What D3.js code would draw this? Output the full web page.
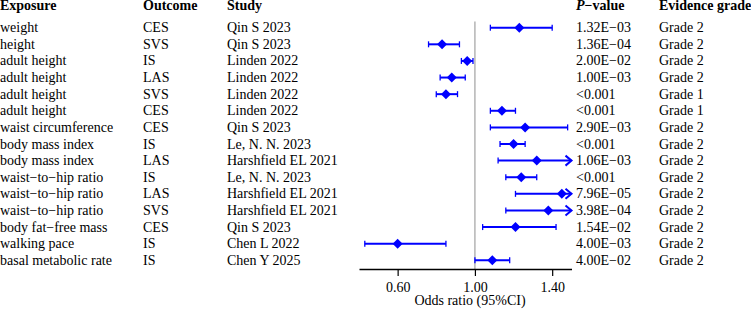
<!DOCTYPE html>
<html>
<head>
<meta charset="utf-8">
<script src="https://cdn.jsdelivr.net/npm/d3@7"></script>
<style>
  body { margin: 0; background: #fff; }
</style>
</head>
<body>
<div id="forest"></div>
<script>
// forest plot data
const exposures = ["weight", "height", "adult height", "adult height", "adult height", "adult height",
  "waist circumference", "body mass index", "body mass index", "waist\u2212to\u2212hip ratio",
  "waist\u2212to\u2212hip ratio", "waist\u2212to\u2212hip ratio", "body fat\u2212free mass", "walking pace",
  "basal metabolic rate"];
const outcomes = ["CES", "SVS", "IS", "LAS", "SVS", "CES", "CES", "IS", "LAS", "IS", "LAS", "SVS", "CES", "IS", "IS"];
const studies = ["Qin S 2023", "Qin S 2023", "Linden 2022", "Linden 2022", "Linden 2022", "Linden 2022",
  "Qin S 2023", "Le, N. N. 2023", "Harshfield EL 2021", "Le, N. N. 2023", "Harshfield EL 2021",
  "Harshfield EL 2021", "Qin S 2023", "Chen L 2022", "Chen Y 2025"];
const orValues = [1.23, 0.83, 0.96, 0.88, 0.85, 1.14, 1.26, 1.20, 1.32, 1.24, 1.45, 1.38, 1.21, 0.60, 1.09];
const lowerCI = [1.08, 0.76, 0.93, 0.82, 0.80, 1.08, 1.08, 1.13, 1.12, 1.16, 1.21, 1.16, 1.04, 0.43, 1.00];
const upperCI = [1.40, 0.92, 0.99, 0.95, 0.91, 1.21, 1.48, 1.26, 1.56, 1.32, 1.74, 1.64, 1.42, 0.85, 1.18];
const pValues = ["1.32E\u221203", "1.36E\u221204", "2.00E\u221202", "1.00E\u221203", "<0.001", "<0.001",
  "2.90E\u221203", "<0.001", "1.06E\u221203", "<0.001", "7.96E\u221205", "3.98E\u221204", "1.54E\u221202",
  "4.00E\u221203", "4.00E\u221202"];
const grades = ["Grade 2", "Grade 2", "Grade 2", "Grade 2", "Grade 1", "Grade 1", "Grade 2", "Grade 2",
  "Grade 2", "Grade 2", "Grade 2", "Grade 2", "Grade 2", "Grade 2", "Grade 2"];
const xTickValues = [0.6, 1.0, 1.4];

const width = 751, height = 311;
const blue = "#0000ff";
const serif = "'Liberation Serif', 'Times New Roman', serif";

const svg = d3.select('#forest')
  .append('svg')
  .attr('width', width)
  .attr('height', height)
  .style('font-family', serif)
  .style('font-size', '14px');

const x = d3.scaleLinear().domain([0.4, 1.5]).range([359, 571.5]);
const y = d3.scalePoint().domain(d3.range(exposures.length)).range([27.7, 260.3]);

const cols = { exposure: 0, outcome: 143, study: 227, p: 576, grade: 659 };

// headers
const head = svg.append('g').style('font-weight', 'bold');
head.append('text').attr('x', cols.exposure).attr('y', 10).text('Exposure');
head.append('text').attr('x', cols.outcome).attr('y', 10).text('Outcome');
head.append('text').attr('x', cols.study).attr('y', 10).text('Study');
const ph = head.append('text').attr('x', cols.p).attr('y', 10);
ph.append('tspan').style('font-style', 'italic').text('P');
ph.append('tspan').text('\u2212value');
head.append('text').attr('x', cols.grade).attr('y', 10).text('Evidence grade');

// table columns
const rows = svg.append('g');
const addCol = (arr, cx) => {
  rows.selectAll(null).data(arr).enter()
    .append('text')
    .attr('x', cx)
    .attr('y', (d, i) => y(i) + 4.5)
    .text(d => d);
};
addCol(exposures, cols.exposure);
addCol(outcomes, cols.outcome);
addCol(studies, cols.study);
addCol(pValues, cols.p);
addCol(grades, cols.grade);

// reference line at OR = 1
svg.append('line')
  .attr('x1', x(1)).attr('x2', x(1))
  .attr('y1', 21.5).attr('y2', 269)
  .attr('stroke', '#b4b4b4')
  .attr('stroke-width', 1.5);

// axis
const axis = svg.append('g')
  .attr('transform', 'translate(0,269)')
  .call(d3.axisBottom(x).tickValues(xTickValues).tickFormat(d3.format('.2f')).tickSize(7).tickSizeOuter(0).tickPadding(6));
axis.attr('font-family', null).attr('font-size', null);
axis.select('.domain').attr('stroke', '#000').attr('stroke-width', 1.3);
axis.selectAll('.tick line').attr('stroke', '#000').attr('stroke-width', 1.2);
axis.selectAll('.tick text').attr('fill', '#000');

svg.append('text')
  .attr('x', 470)
  .attr('y', 305)
  .attr('text-anchor', 'middle')
  .text('Odds ratio (95%CI)');

// CI lines
const xMax = x.domain()[1];
const marks = svg.append('g');
const idx = d3.range(exposures.length);

marks.selectAll('.ci').data(idx).enter()
  .append('line')
  .attr('x1', i => x(lowerCI[i]))
  .attr('x2', i => x(Math.min(upperCI[i], xMax)))
  .attr('y1', i => y(i)).attr('y2', i => y(i))
  .attr('stroke', blue)
  .attr('stroke-width', 2);

// lower caps
marks.selectAll('.capL').data(idx).enter()
  .append('line')
  .attr('x1', i => x(lowerCI[i])).attr('x2', i => x(lowerCI[i]))
  .attr('y1', i => y(i) - 3).attr('y2', i => y(i) + 3)
  .attr('stroke', blue).attr('stroke-width', 1.3);

// upper caps or arrows when clipped
marks.selectAll('.capU').data(idx.filter(i => upperCI[i] <= xMax)).enter()
  .append('line')
  .attr('x1', i => x(upperCI[i])).attr('x2', i => x(upperCI[i]))
  .attr('y1', i => y(i) - 3).attr('y2', i => y(i) + 3)
  .attr('stroke', blue).attr('stroke-width', 1.3);

marks.selectAll('.arrow').data(idx.filter(i => upperCI[i] > xMax)).enter()
  .append('path')
  .attr('d', i => {
    const ex = x(xMax), ey = y(i);
    return `M${ex - 6},${ey - 5}L${ex},${ey}L${ex - 6},${ey + 5}`;
  })
  .attr('fill', 'none')
  .attr('stroke', blue)
  .attr('stroke-width', 2);

// diamonds
marks.selectAll('.pt').data(idx).enter()
  .append('path')
  .attr('d', i => {
    const cx = x(orValues[i]), cy = y(i), r = 5;
    return `M${cx - r},${cy}L${cx},${cy - r}L${cx + r},${cy}L${cx},${cy + r}Z`;
  })
  .attr('fill', blue);
</script>
</body>
</html>
